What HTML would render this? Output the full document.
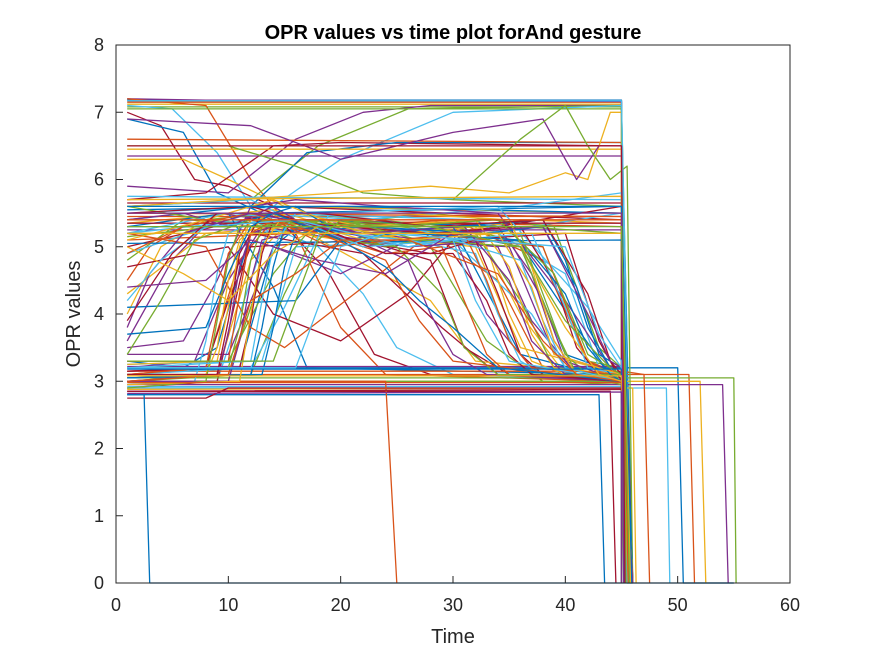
<!DOCTYPE html>
<html><head><meta charset="utf-8"><style>
body{margin:0;background:#fff;}
svg{display:block;font-family:"Liberation Sans",Arial,sans-serif;}
</style></head><body>
<svg id="chart" width="875" height="656">
<rect width="875" height="656" fill="#fff"/>
<rect x="116" y="45" width="674" height="538" fill="#fff" stroke="none"/>
<g id="lines"></g>
<rect x="116" y="45" width="674" height="538" fill="none" stroke="#262626" stroke-width="1"/>
<g id="xt"></g>
<g id="yt"></g>
<text x="453" y="39" text-anchor="middle" font-size="20" font-weight="bold" fill="#000">OPR values vs time plot forAnd gesture</text>
<text x="453" y="643" text-anchor="middle" font-size="20" fill="#262626">Time</text>
<text transform="translate(80,314) rotate(-90)" text-anchor="middle" font-size="20" fill="#262626">OPR values</text>
</svg>
<script>
const xTicks=[0,10,20,30,40,50,60];
const yTicks=[0,1,2,3,4,5,6,7,8];
const colors=["#0072BD","#D95319","#EDB120","#7E2F8E","#77AC30","#4DBEEE","#A2142F"];
const series=[
"1:7.18 45:7.18 45.5:0 46:0","1:7.15 45:7.15 45.3:0","1:7.12 45:7.12 45.6:0","1:7.2 8:7.18 45:7.16 45:0","1:7.08 45:7.08 46:0",
"1:7.1 5:7.05 9:6.4 12:5.6 45:5.5 45.5:0","1:7.0 4:6.8 7:6.0 10:5.9 14:5.6 45:5.4 46:0","1:6.9 6:6.7 9:5.8 13:5.5 45:5.6 45:0",
"1:7.2 8:7.1 12:6.0 15:5.4 45:5.3 46:0","1:6.3 6:6.3 10:6.0 15:5.6 45:5.5 45.5:0",
"1:5.9 10:5.8 16:6.6 22:7.0 28:7.1 45:7.1 45.5:0","1:5.6 12:5.7 18:6.5 26:7.05 45:7.1 45:0","1:5.5 14:5.6 20:6.3 30:7.0 45:7.1 46:0",
"1:5.7 8:5.8 14:6.5 20:6.55 45:6.5 45.5:0","1:5.4 12:5.6 17:6.4 25:6.55 45:6.55 46:0","1:6.6 45:6.55 45:0","1:6.45 45:6.45 45.7:0","1:6.35 45:6.35 45.4:0",
"1:6.5 10:6.5 16:6.2 22:5.8 30:5.7 45:5.6 45.5:0","1:5.75 45:5.7 45:0","1:5.65 45:5.65 45.5:0","1:5.55 20:5.6 45:5.5 46:0","1:5.45 45:5.45 45.3:0",
"1:5.35 14:5.55 20:5.25 30:5.2 36:5.4 45:5.35 46:0","1:5.25 45:5.25 45.5:0","1:5.15 14:5.4 20:5.1 28:5.05 36:5.3 45:5.2 45:0",
"1:5.6 12:5.7 18:5.2 26:5.0 33:5.2 45:5.5 45.6:0","1:5.0 14:5.5 22:5.0 34:5.3 45:5.6 46:0",
"1:3.3 6:3.2 9:3.5 12:5.2 20:5.3 30:5.2 36:5.0 40:3.4 45:3.1 45.5:0","1:3.1 8:3.2 11:4.8 14:5.4 28:5.2 34:4.5 38:3.2 45:3.0 46:0",
"1:3.0 9:3.1 12:4.8 15:5.3 26:5.1 32:5.0 36:3.5 45:3.1 45:0","1:3.2 7:3.3 10:4.5 13:5.3 24:5.0 30:5.2 33:4.0 37:3.2 45:3.1 45.5:0",
"1:3.05 10:3.1 13:4.6 16:5.5 30:5.3 38:5.0 42:3.3 45:3.2 46:0","1:2.95 9:3.0 11:4.0 14:5.5 32:5.4 40:4.6 43:3.2 45:3.0 45.4:0",
"1:3.15 8:3.2 10:4.2 12:5.0 22:5.1 28:4.8 31:3.5 35:3.1 45:3.0 45:0","1:3.1 11:3.2 14:5.0 17:5.4 35:5.3 41:3.8 44:3.1 45:3.1 46:0",
"1:4.5 3:5.0 6:5.3 20:5.3 30:5.4 38:4.8 42:3.3 45:3.1 45.5:0","1:4.0 4:5.0 8:5.4 20:5.1 32:5.3 36:4.0 40:3.1 45:3.0 45.3:0",
"1:3.6 5:4.8 9:5.5 22:5.2 34:5.0 37:3.9 41:3.1 45:3.0 46:0","1:4.8 6:5.4 20:5.3 28:5.0 33:3.6 38:3.0 45:2.95 45.5:0",
"1:5.2 12:5.4 18:5.0 22:4.3 25:3.5 30:3.1 45:3.0 45:0","1:5.5 14:5.5 19:4.6 23:3.4 28:3.1 45:3.05 46:0",
"1:5.3 10:5.5 14:4.4 17:3.2 45:3.1 45.5:0","1:5.1 16:5.2 20:3.8 24:3.1 45:3.0 45.4:0","1:4.3 8:5.2 16:5.3 28:4.2 32:3.3 45:3.1 46:0",
"1:3.4 10:3.4 14:5.0 20:4.6 26:5.1 35:5.0 39:3.4 45:3.1 45:0","1:3.0 12:3.1 15:4.3 18:5.3 28:5.5 39:5.3 43:3.5 45:3.2 45.5:0",
"1:3.25 13:3.3 16:5.0 30:5.1 37:4.0 40:3.2 45:3.0 46:0","1:2.9 9:3.0 12:5.2 22:4.9 29:3.8 34:3.1 45:3.0 45.6:0",
"1:3.2 45:3.2 50:3.2 50.5:0 55:0","1:3.1 45:3.1 51:3.1 51.5:0","1:3.0 45:3.0 52:3.0 52.5:0","1:2.95 45:2.95 54:2.95 54.5:0",
"1:3.05 45:3.05 55:3.05 55.2:0","1:2.9 45:2.9 49:2.9 49.3:0","1:2.85 44:2.85 44.5:0","1:2.8 43:2.8 43.5:0","1:3.15 45:3.15 47:3.1 47.5:0",
"1:2.88 45:2.9 46:2.9 46.3:0","1:3.22 45:3.22 45.5:0","1:3.0 45:3.0 45.2:0","1:2.92 45:2.92 46:0",
"1:2.75 8:2.75 10:2.9 45:2.9 45.5:0","1:2.8 2.5:2.8 3:0 55:0","1:3.0 24:3.0 25:0",
"1:5.6 20:5.8 28:5.9 35:5.8 40:6.1 42:6.0 44:7.0 45:7.0 45:0","1:6.9 12:6.8 20:6.3 30:6.7 38:6.9 41:6.0 43:6.5 45:6.5 45.5:0",
"30:5.7 36:6.6 40:7.1 42:6.5 44:6.0 45.5:6.2 46:0","1:4.9 12:5.5 22:5.4 36:5.6 45:5.8 45.3:0",
"1:5.35 45:5.35 45:0","1:5.05 45:5.1 46:0","1:5.5 45:5.45 45.5:0","1:5.7 45:5.75 45.4:0",
"1:3.5 6:3.6 9:4.5 12:5.6 16:5.7 24:5.6 34:5.5 40:4.2 44:3.2 45:3.1 45.5:0","1:3.3 10:3.3 14:4.6 18:5.4 32:5.2 36:4.2 39:3.2 45:3.05 46:0",
"1:3.1 12:3.2 15:4.1 19:5.5 34:5.6 42:4.1 45:3.3 45.5:0","1:4.7 10:5.0 14:4.0 20:3.6 26:4.3 30:5.1 40:5.2 43:3.6 45:3.0 46:0",
"1:4.1 16:4.2 20:5.1 30:5.3 36:3.4 45:3.0 45:0","1:5.2 8:5.0 12:3.8 15:3.5 22:4.4 28:5.2 38:5.0 42:3.3 45:3.0 45.5:0",
"1:3.1 8:3.1 9:3.5 10:4.5 11:5.1 13:5.4 18:5.3 22:5.1 26:5.2 30:5.3 33:5.0 35:4.0 37:3.3 40:3.1 45:3.0 45.5:0",
"1:3.0 9:3.1 10:3.7 11:4.7 12:5.2 16:5.4 20:5.1 28:5.1 34:5.3 37:4.6 39:3.6 41:3.1 45:3.0 46:0",
"1:3.2 10:3.2 11:3.8 12:4.8 13:5.3 18:5.4 24:5.0 30:5.2 36:5.2 38:4.3 40:3.4 42:3.1 45:3.1 45.4:0",
"1:2.95 7:3.0 8:3.6 9:4.6 10:5.2 14:5.5 20:5.2 26:5.1 32:4.9 34:4.0 36:3.3 38:3.1 45:3.0 45.5:0",
"1:3.15 11:3.2 12:3.9 13:4.9 14:5.4 20:5.3 28:5.2 36:5.3 39:4.5 41:3.5 43:3.1 45:3.1 46:0",
"1:3.05 12:3.1 13:3.8 14:4.7 15:5.3 22:5.2 30:5.3 38:5.4 40:4.8 42:3.8 44:3.2 45:3.1 45.5:0",
"1:3.1 8:3.2 9:4.0 10:4.9 12:5.4 18:5.2 24:4.9 29:5.0 31:4.2 33:3.4 35:3.1 45:3.0 45.3:0",
"1:3.25 9:3.3 10:4.1 11:5.0 12:5.4 16:5.5 22:5.3 32:5.4 35:4.7 37:3.7 39:3.2 45:3.1 46:0",
"1:3.0 10:3.0 11:3.6 12:4.5 13:5.1 18:5.3 26:5.0 35:5.1 38:4.2 40:3.3 45:3.0 45.5:0",
"1:2.9 8:3.0 9:3.9 10:4.8 11:5.3 20:5.4 27:5.1 36:5.0 39:3.8 41:3.1 45:2.95 46:0",
"1:3.2 12:3.3 13:4.2 14:5.0 16:5.5 24:5.4 30:5.1 37:5.2 40:4.1 42:3.2 45:3.1 45.5:0",
"1:3.1 9:3.1 10:3.9 11:4.9 13:5.5 21:5.1 28:4.9 32:5.1 34:4.3 36:3.4 38:3.1 45:3.0 45:0",
"1:3.05 13:3.1 14:3.8 15:4.7 16:5.2 22:5.3 33:5.2 38:5.3 41:4.4 43:3.4 45:3.2 46:0",
"1:3.3 10:3.3 11:4.3 12:5.2 14:5.4 19:5.0 25:5.1 31:5.2 33:4.5 35:3.6 37:3.2 45:3.1 45.5:0",
"1:2.95 11:3.0 12:4.0 13:5.0 15:5.5 25:5.5 35:5.4 37:4.7 39:3.6 41:3.1 45:3.0 45.6:0",
"1:5.4 6:5.5 10:5.3 14:5.6 18:5.2 22:5.1 26:4.8 28:4.0 30:3.4 33:3.1 45:3.0 46:0",
"1:5.6 8:5.4 14:5.5 20:5.1 25:5.0 29:4.3 31:3.5 34:3.1 45:3.1 45.5:0",
"1:5.2 10:5.5 16:5.4 22:5.0 30:5.1 36:4.8 38:3.9 40:3.2 45:3.0 45:0",
"1:5.5 12:5.6 18:5.3 24:4.9 30:4.9 33:4.2 35:3.4 37:3.1 45:3.0 46:0",
"1:5.3 10:5.3 16:5.6 20:5.2 26:5.2 36:5.1 40:4.3 42:3.5 44:3.1 45:3.0 45.5:0",
"1:4.9 6:5.3 12:5.5 18:5.2 24:4.8 27:3.9 30:3.3 45:3.0 45.4:0",
"1:5.1 8:5.4 14:5.7 20:5.3 26:5.1 34:5.2 37:4.4 39:3.4 45:3.1 46:0",
"1:3.8 3:4.6 6:5.2 12:5.5 22:5.2 31:5.3 35:4.5 37:3.6 40:3.1 45:3.0 45.5:0",
"1:3.4 4:4.2 7:5.1 12:5.4 24:5.3 34:5.4 39:4.6 42:3.4 45:3.1 45:0",
"1:4.2 4:4.8 8:5.3 16:5.4 26:5.0 30:5.1 32:4.2 35:3.3 45:3.0 46:0",
"1:3.9 5:4.9 9:5.5 18:5.5 28:5.3 38:5.4 42:4.3 44:3.3 45:3.1 45.5:0",
"1:3.7 8:3.8 10:4.6 12:5.3 14:5.5 20:5.1 24:4.7 27:4.2 30:3.8 34:3.2 45:3.0 45.5:0",
"1:3.0 10:3.1 12:4.2 16:4.6 20:5.1 26:5.1 34:4.6 38:3.6 41:3.1 45:3.0 46:0",
"1:5.0 6:4.6 10:4.2 14:4.9 18:5.3 28:5.3 36:5.0 40:3.8 43:3.1 45:3.0 45.5:0",
"1:4.4 8:4.5 12:5.1 18:4.8 24:4.6 30:5.2 38:5.3 42:4.0 44:3.3 45:3.2 45:0",
"1:3.3 14:3.3 16:4.2 18:5.1 20:5.4 28:5.3 36:5.0 40:3.9 44:3.2 45:3.1 46:0",
"1:3.2 16:3.2 18:4.1 20:5.0 24:5.2 32:5.1 40:5.0 43:3.7 45:3.2 45.5:0",
"1:2.85 45:2.88 45.8:0","1:3.18 45:3.18 45.3:0","1:2.98 45:2.98 45.9:0","1:3.08 45:3.08 45.6:0","1:2.82 45:2.84 46:0",
"1:7.05 45:7.05 45.4:0","1:7.17 45:7.17 45.8:0","1:6.5 45:6.5 45.3:0","1:5.6 45:5.6 45.9:0","1:5.4 45:5.4 45.6:0",
"1:5.2 45:5.2 45.8:0","1:5.5 45:5.5 45.2:0","1:5.3 45:5.3 45.7:0"
];
const X=v=>116+v*(674/60), Y=v=>583-v*(538/8);
const ns="http://www.w3.org/2000/svg";
const g=document.getElementById('lines');
series.forEach((s,i)=>{
  const pts=s.split(' ').map(p=>p.split(':').map(Number));
  const pl=document.createElementNS(ns,'polyline');
  pl.setAttribute('points',pts.map(p=>X(p[0]).toFixed(1)+','+Y(p[1]).toFixed(1)).join(' '));
  pl.setAttribute('fill','none');
  pl.setAttribute('stroke',colors[i%7]);
  pl.setAttribute('stroke-width','1.3');
  pl.setAttribute('stroke-linejoin','round');
  
  
  g.appendChild(pl);
});
const xt=document.getElementById('xt'), yt=document.getElementById('yt');
xTicks.forEach(t=>{
  const l=document.createElementNS(ns,'line');
  l.setAttribute('x1',X(t));l.setAttribute('x2',X(t));l.setAttribute('y1',583);l.setAttribute('y2',576);l.setAttribute('stroke','#262626');
  xt.appendChild(l);
  const tx=document.createElementNS(ns,'text');
  tx.setAttribute('x',X(t));tx.setAttribute('y',611);tx.setAttribute('text-anchor','middle');tx.setAttribute('font-size','18');tx.setAttribute('fill','#262626');
  tx.textContent=t;
  
  
  xt.appendChild(tx);
});
yTicks.forEach(t=>{
  const l=document.createElementNS(ns,'line');
  l.setAttribute('x1',116);l.setAttribute('x2',123);l.setAttribute('y1',Y(t));l.setAttribute('y2',Y(t));l.setAttribute('stroke','#262626');
  yt.appendChild(l);
  const tx=document.createElementNS(ns,'text');
  tx.setAttribute('x',104);tx.setAttribute('y',Y(t)+6);tx.setAttribute('text-anchor','end');tx.setAttribute('font-size','18');tx.setAttribute('fill','#262626');
  tx.textContent=t;
  
  
  yt.appendChild(tx);
});
</script>
</body></html>
